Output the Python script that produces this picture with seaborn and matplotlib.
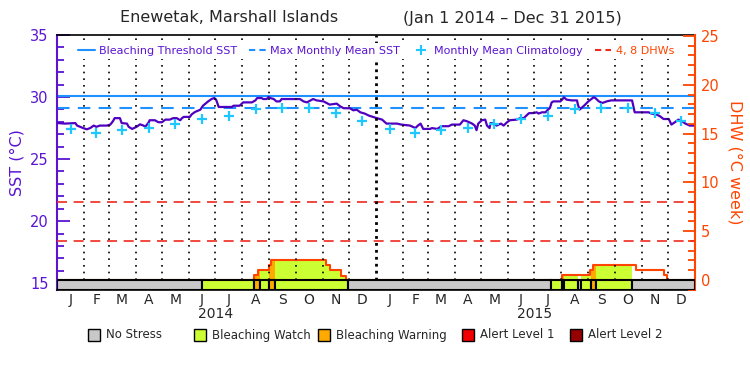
import numpy as np
import pandas as pd
import matplotlib
matplotlib.use("Agg")
import matplotlib.pyplot as plt
import matplotlib.transforms as mtransforms
from matplotlib.patches import Rectangle
from matplotlib.lines import Line2D
from matplotlib.ticker import MultipleLocator
import seaborn as sns

# days counted from Jan 1 2014
sst_day = [0, 9, 21, 23, 30, 34, 38, 42, 45, 49, 57, 61, 64, 66, 72, 74, 80, 82, 86, 91,
           95, 99, 101, 105, 106, 112, 116, 120, 124, 129, 133, 137, 141, 143, 145, 152, 154, 158, 164, 167,
           173, 177, 180, 182, 185, 200, 202, 209, 213, 223, 227, 229, 234, 236, 240, 242, 244, 248, 251, 255,
           257, 278, 282, 286, 290, 293, 297, 305, 312, 320, 324, 328, 335, 339, 343, 347, 352, 357, 366, 372,
           377, 389, 394, 404, 410, 413, 416, 419, 427, 429, 435, 440, 448, 452, 461, 465, 469, 475, 478, 480,
           482, 486, 490, 492, 495, 496, 500, 503, 508, 511, 515, 518, 526, 530, 534, 537, 540, 545, 549, 551,
           555, 559, 561, 564, 566, 568, 576, 578, 580, 583, 589, 595, 596, 598, 603, 608, 614, 616, 620, 624,
           629, 634, 658, 661, 677, 680, 686, 690, 694, 700, 703, 707, 711, 715, 719, 724, 730]
sst_val = [27.91, 27.86, 27.90, 27.70, 27.50, 27.40, 27.50, 27.70, 27.60, 27.70, 27.70, 27.78, 28.05, 28.30, 28.30, 27.90, 27.86, 27.60, 27.43, 27.60,
           27.80, 27.70, 27.60, 27.97, 28.13, 28.13, 27.97, 27.97, 28.18, 28.18, 28.30, 28.30, 28.13, 28.30, 28.40, 28.40, 28.60, 28.80, 28.98, 29.30,
           29.65, 29.85, 29.92, 29.80, 29.20, 29.20, 29.30, 29.30, 29.57, 29.57, 29.73, 29.92, 29.92, 29.84, 29.84, 30.00, 29.92, 29.84, 29.65, 29.65,
           29.84, 29.84, 29.65, 29.57, 29.73, 29.84, 29.73, 29.65, 29.39, 29.47, 29.25, 29.10, 29.10, 28.93, 28.98, 28.77, 28.67, 28.50, 28.30, 28.18,
           27.86, 27.86, 27.78, 27.70, 27.50, 27.70, 27.86, 27.43, 27.43, 27.50, 27.43, 27.65, 27.65, 27.78, 27.78, 28.13, 28.05, 27.86, 27.70, 27.33,
           27.86, 28.13, 28.18, 27.70, 27.50, 27.90, 27.86, 27.70, 27.86, 27.70, 27.97, 28.13, 28.18, 28.30, 28.30, 28.50, 28.70, 28.71, 28.77, 28.67,
           28.77, 28.77, 28.93, 29.12, 29.57, 29.65, 29.65, 29.79, 29.98, 29.79, 29.73, 29.73, 29.39, 28.99, 29.30, 29.65, 29.98, 29.92, 29.65, 29.52,
           29.65, 29.73, 29.73, 28.77, 28.77, 28.67, 28.59, 28.45, 28.23, 28.23, 27.78, 27.97, 28.18, 28.05, 27.86, 27.70, 27.70]

clim_val = [27.43, 27.11, 27.38, 27.49, 27.86, 28.26, 28.50, 29.05, 29.10, 29.10, 28.72, 28.05]
mmm = 29.1
threshold = 30.1

dhw_day = [0, 225, 230, 243, 245, 308, 312, 325, 331, 578, 610, 613, 662, 694, 698, 730]
dhw_val = [0, 0.5, 1.0, 1.55, 2.0, 1.55, 1.0, 0.45, 0, 0.5, 1.0, 1.56, 1.0, 0.5, 0, 0]
dhw_lines = [4, 8]

stress_day = [0, 166, 225, 232, 243, 250, 333, 565, 578, 580, 596, 600, 611, 617, 658, 730]
stress_level = [0, 1, 2, 1, 2, 1, 0, 1, 2, 1, 0, 1, 2, 1, 0]
stress_names = ["No Stress", "Bleaching Watch", "Bleaching Warning", "Alert Level 1", "Alert Level 2"]
stress_colors = ["#c8c8c8", "#ccff33", "#ffaa00", "#f00000", "#960000"]

month_letters = list("JFMAMJJASOND") * 2
years = ["2014", "2015"]

purple = "#5a14d2"
sst_color = "#5000c0"
blue = "#1e90ff"
cyan = "#1ec8ff"
orange = "#ff4500"
dhw_red = "#f02a1e"

sns.set_style("white")
plt.rcParams["font.family"] = ["DejaVu Sans"]

start = pd.Timestamp("2014-01-01")
month_start = np.array((pd.date_range("2014-01-01", "2016-01-01", freq="MS") - start).days, dtype=float)
month_mid = (month_start[:-1] + month_start[1:]) / 2

fig = plt.figure(figsize=(7.5, 3.75), dpi=100)
ax = fig.add_axes([57 / 750, 1 - 290 / 375, 638 / 750, 255 / 375])
ax2 = ax.twinx()

# SST side
ax.axhline(threshold, color=blue, lw=1.5, zorder=2)
ax.axhline(mmm, color=blue, lw=1.5, ls=(0, (6, 4)), zorder=2)
sns.lineplot(x=sst_day, y=sst_val, ax=ax, color=sst_color, lw=1.6, estimator=None, zorder=4)
sns.scatterplot(x=month_mid, y=clim_val * 2, ax=ax, marker="+", s=45, color=cyan, linewidth=1.6, zorder=5)
ax.set_xlim(0, 730)
ax.set_ylim(14.45, 35.0)
ax.set_yticks([15, 20, 25, 30, 35])
ax.yaxis.set_minor_locator(MultipleLocator(1))
ax.tick_params(axis="y", which="major", direction="in", length=9, width=1.3, colors=purple, labelsize=10.5, pad=6)
ax.tick_params(axis="y", which="minor", direction="in", length=5, width=1.3, colors=purple)
ax.set_xticks(month_mid)
ax.set_xticklabels(month_letters)
ax.tick_params(axis="x", length=0, pad=2, labelsize=10)
ax.set_ylabel("SST (°C)", color=purple, fontsize=11.5, labelpad=4)
ax.set_xlabel("")

# DHW side
lo, hi = -1.03, 25.1
ax2.set_ylim(lo, hi)
days = np.arange(0, 731)
dhw_daily = np.array(dhw_val)[np.searchsorted(dhw_day, days, side="right") - 1]
for i, lev in enumerate(stress_level):
    if lev == 0:
        continue
    xs = np.arange(stress_day[i], stress_day[i + 1] + 1)
    ax2.fill_between(xs, 0, dhw_daily[xs], step="post", color=stress_colors[lev], lw=0, zorder=1)
ax2.plot(dhw_day, dhw_val, drawstyle="steps-post", color=orange, lw=1.5, zorder=2)
for v in dhw_lines:
    ax2.axhline(v, color=dhw_red, lw=1.2, ls=(0, (6, 4)), zorder=2)

frac0 = (0 - lo) / (hi - lo)
for d in month_start[1:-1]:
    if d == 365:
        ax2.axvline(d, ymin=frac0, color="black", lw=2.0, ls=(0, (1, 1.5)), zorder=3)
    else:
        ax2.axvline(d, ymin=frac0, color="black", lw=1.2, ls=(0, (1, 3)), zorder=3)

widths = np.diff(stress_day)
ax2.bar(stress_day[:-1], 0 - lo, width=widths, bottom=lo, align="edge",
        color=[stress_colors[l] for l in stress_level], edgecolor="black", lw=1.5, zorder=4)

ax2.set_yticks([0, 5, 10, 15, 20, 25])
ax2.yaxis.set_minor_locator(MultipleLocator(1))
ax2.tick_params(axis="y", which="major", direction="in", length=9, width=1.3, colors=orange, labelsize=10.5, pad=4)
ax2.tick_params(axis="y", which="minor", direction="in", length=5, width=1.3, colors=orange)
ax2.set_ylabel("DHW (°C week)", color=orange, fontsize=11.5, rotation=270, va="bottom", labelpad=6)

ax.spines["right"].set_visible(False)
ax2.spines["left"].set_visible(False)
ax.spines["left"].set_color(purple)
ax.spines["left"].set_linewidth(1.5)
ax2.spines["right"].set_color(orange)
ax2.spines["right"].set_linewidth(1.5)
for s in ["top", "bottom"]:
    ax.spines[s].set_color("black")
    ax.spines[s].set_linewidth(1.2)
    ax2.spines[s].set_visible(False)

# year labels under the month letters
trans = mtransforms.blended_transform_factory(ax.transData, ax.transAxes)
for k, yr in enumerate(years):
    ax.text(month_start[6 + 12 * k], -0.095, yr, transform=trans, ha="center", va="center", fontsize=10)

# top legend, white box so the month lines stop under it
handles = [
    Line2D([], [], color=blue, lw=1.5),
    Line2D([], [], color=blue, lw=1.5, ls=(0, (3, 2))),
    Line2D([], [], color=cyan, marker="+", ls="", markersize=7, mew=1.5),
    Line2D([], [], color=dhw_red, lw=1.5, ls=(0, (3, 2))),
]
labels = ["Bleaching Threshold SST", "Max Monthly Mean SST", "Monthly Mean Climatology", "4, 8 DHWs"]
leg = ax2.legend(handles, labels, ncol=4, loc="center", bbox_to_anchor=(0.5, 0.937), frameon=True,
                 fontsize=8, handlelength=1.5, handletextpad=0.4, columnspacing=1.1, borderaxespad=0,
                 borderpad=0.3, fancybox=False, framealpha=1)
leg.get_frame().set_facecolor("white")
leg.get_frame().set_edgecolor("none")
leg.set_zorder(6)
for t, c in zip(leg.get_texts(), [purple, purple, purple, orange]):
    t.set_color(c)

# title
fig.text(229 / 750, 1 - 18 / 375, "Enewetak, Marshall Islands", ha="center", va="center", fontsize=11.5)
fig.text(512 / 750, 1 - 18 / 375, "(Jan 1 2014 – Dec 31 2015)", ha="center", va="center", fontsize=11.5)

# stress legend below
box_x = [88, 194, 318, 462, 570]
for bx, name, col in zip(box_x, stress_names, stress_colors):
    fig.add_artist(Rectangle((bx / 750, 1 - 341 / 375), 12 / 750, 12 / 375, transform=fig.transFigure,
                             facecolor=col, edgecolor="black", lw=1))
    fig.text((bx + 18) / 750, 1 - 335 / 375, name, ha="left", va="center", fontsize=8.5)

fig.savefig("out.png", dpi=100)
